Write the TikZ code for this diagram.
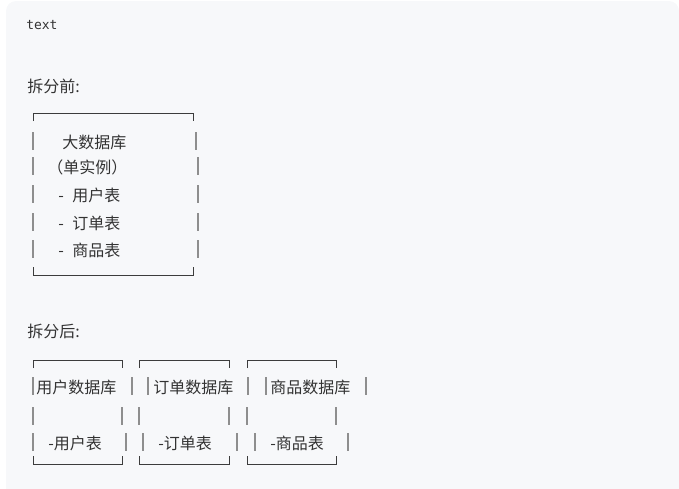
\documentclass[tikz,border=0pt]{standalone}
\usepackage{fontspec}
\usepackage{xcolor}
\usepackage{tikz}
\usetikzlibrary{positioning}
\newfontfamily\cjkfont{Noto Sans CJK SC}
\setmonofont{DejaVu Sans Mono}
\definecolor{splitInk}{HTML}{333333}
\definecolor{splitRule}{HTML}{3C3C3C}
\definecolor{splitBar}{HTML}{8E8E8E}
\definecolor{splitSurface}{HTML}{F7F8FA}

\begin{document}
\begin{tikzpicture}[x=0.75pt,y=-0.75pt,
    cjktext/.style={anchor=west,inner sep=0pt,text=splitInk,
                    font=\cjkfont\fontsize{12}{14}\selectfont},
    codetag/.style={anchor=west,inner sep=0pt,text=splitInk,
                    font=\ttfamily\fontsize{9.75}{12}\selectfont},
    boxrule/.style={draw=splitRule,line width=0.75pt},
    boxbar/.style={draw=splitBar,line width=1pt}]
  \useasboundingbox (0,0) rectangle (679,489);
  \begin{scope}
    \clip (0,0) rectangle (679,489);
    \fill[splitSurface,rounded corners=7.5pt] (6,1) rectangle (679,530);
  \end{scope}

  \node[codetag] (tag) at (26,25) {text};

  % before the split
  \node[cjktext] (before) at (27,86) {拆分前:};
  \draw[boxrule] (33,121) -- (33,113) -- (193,113) -- (193,121);
  \draw[boxrule] (33,267) -- (33,275) -- (193,275) -- (193,267);
  \foreach \y/\xr in {142/196,167/198,195/198,223/198,250/198}{
    \draw[boxbar] (33,\y-10) -- (33,\y+8);
    \draw[boxbar] (\xr,\y-10) -- (\xr,\y+8);
  }
  \node[cjktext] (bigdb) at (62,142) {大数据库};
  \node[cjktext] (single) at (47,167) {（单实例）};
  \node[cjktext] (usertbl) at (58,195) {-\hspace{6.5pt}用户表};
  \node[cjktext] (ordertbl) at (58,223) {-\hspace{6.5pt}订单表};
  \node[cjktext] (goodstbl) at (58,250) {-\hspace{6.5pt}商品表};

  % after the split
  \node[cjktext] (after) at (27,331) {拆分后:};
  \foreach \xl/\xr in {33/122,139/229,247/336}{
    \draw[boxrule] (\xl,368) -- (\xl,360) -- (\xr,360) -- (\xr,368);
    \draw[boxrule] (\xl,456) -- (\xl,464) -- (\xr,464) -- (\xr,456);
  }
  \foreach \x in {33,132,148,248,266,366}
    \draw[boxbar] (\x,377) -- (\x,395);
  \foreach \x in {33,122,139,229,247,336}
    \draw[boxbar] (\x,407) -- (\x,425);
  \foreach \x in {33,126,143,237,255,348}
    \draw[boxbar] (\x,433) -- (\x,451);
  \node[cjktext] (userdb) at (36,387) {用户数据库};
  \node[cjktext] (orderdb) at (153,387) {订单数据库};
  \node[cjktext] (goodsdb) at (270,387) {商品数据库};
  \node[cjktext] (userpart) at (48,443) {-用户表};
  \node[cjktext] (orderpart) at (158,443) {-订单表};
  \node[cjktext] (goodspart) at (270,443) {-商品表};
\end{tikzpicture}
\end{document}
